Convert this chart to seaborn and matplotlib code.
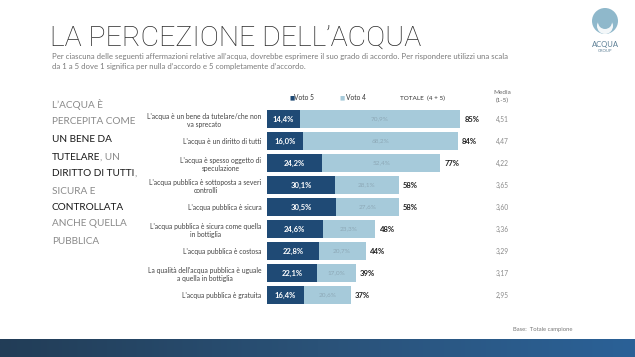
import numpy as np
import pandas as pd
import matplotlib
matplotlib.use("Agg")
import matplotlib.pyplot as plt
import seaborn as sns
from matplotlib.patches import Circle
from matplotlib.colors import LinearSegmentedColormap

sns.set_theme(style="white")
plt.rcParams['font.family'] = ['Lato', 'DejaVu Sans']

# ---------------- data ----------------
categories = [
    "L'acqua è un bene da tutelare/che non\nva sprecato",
    "L'acqua è un diritto di tutti",
    "L'acqua è spesso oggetto di\nspeculazione",
    "L'acqua pubblica è sottoposta a severi\ncontrolli",
    "L'acqua pubblica è sicura",
    "L'acqua pubblica è sicura come quella\nin bottiglia",
    "L'acqua pubblica è costosa",
    "La qualità dell'acqua pubblica è uguale\na quella in bottiglia",
    "L'acqua pubblica è gratuita",
]
voto5 = [14.4, 16.0, 24.2, 30.1, 30.5, 24.6, 22.8, 22.1, 16.4]
voto4 = [70.9, 68.2, 52.4, 28.1, 27.6, 23.3, 20.7, 17.0, 20.6]
totale_labels = ["85%", "84%", "77%", "58%", "58%", "48%", "44%", "39%", "37%"]
media = ["4,51", "4,47", "4,22", "3,65", "3,60", "3,36", "3,29", "3,17", "2,95"]

DARK = "#1f4a75"
LIGHT = "#a6cada"

df = pd.DataFrame({"cat": categories, "v5": voto5, "v4": voto4})
df["tot"] = df["v5"] + df["v4"]

W, H = 635, 357
fig = plt.figure(figsize=(W / 100, H / 100), dpi=100)
fig.patch.set_facecolor("white")

def fx(x):
    return x / W

def fy(y):
    return 1 - y / H

# background axes for free text
bg = fig.add_axes([0, 0, 1, 1])
bg.axis("off")

# bottom gradient band
grad = np.linspace(0, 1, 256).reshape(1, -1)
cmap = LinearSegmentedColormap.from_list("band", ["#223d57", "#2a5278", "#2b6197"])
bg.imshow(grad, extent=(0, W, H, 339), aspect="auto", cmap=cmap, zorder=0)
bg.set_xlim(0, W)
bg.set_ylim(H, 0)

# title & subtitle
bg.text(50, 46, "LA PERCEZIONE DELL\u2019ACQUA", fontsize=20.5, fontweight="light",
        family=["Roboto", "DejaVu Sans"], color="#2a2a2a", va="baseline", ha="left")
bg.text(52, 59, "Per ciascuna delle seguenti affermazioni relative all\u2019acqua, dovrebbe esprimere il suo grado di accordo. Per rispondere utilizzi una scala",
        fontsize=5.6, color="#7a7a7a", va="baseline", ha="left")
bg.text(52, 69, "da 1 a 5 dove 1 significa per nulla d\u2019accordo e 5 completamente d\u2019accordo.",
        fontsize=5.6, color="#7a7a7a", va="baseline", ha="left")

# logo
bg.add_patch(Circle((605, 21), 13, facecolor="#8fb8cb", edgecolor="none", zorder=2))
bg.add_patch(Circle((605, 26), 8, facecolor="white", edgecolor="none", zorder=3, alpha=0.9))
bg.add_patch(Circle((605, 22), 7, facecolor="#8fb8cb", edgecolor="none", zorder=4))
bg.text(605, 44, "ACQUA", fontsize=5.5, color="#5c7f95", ha="center", va="center")
bg.text(605, 51, "GROUP", fontsize=3, color="#5c7f95", ha="center", va="center")

# left narrative text
GRAY = "#8a8a8a"
BLK = "#1a1a1a"
lines = [
    [("L\u2019ACQUA È", GRAY)],
    [("PERCEPITA COME", GRAY)],
    [("UN BENE DA", BLK)],
    [("TUTELARE", BLK), (", UN", GRAY)],
    [("DIRITTO DI TUTTI", BLK), (",", GRAY)],
    [("SICURA E", GRAY)],
    [("CONTROLLATA", BLK)],
    [("ANCHE QUELLA", GRAY)],
    [("PUBBLICA", GRAY)],
]
ys = [105, 122, 139, 157, 174, 191, 208, 224, 241]
for y, parts in zip(ys, lines):
    prev = None
    for txt, col in parts:
        if prev is None:
            prev = bg.text(52, y, txt, fontsize=7.2, color=col, va="center", ha="left")
        else:
            prev = bg.annotate(txt, xy=(1, 0), xycoords=prev, fontsize=7.2,
                               color=col, va="bottom", ha="left")

# ---------------- main chart ----------------
x0, x1 = 267, 267 + 2.265 * 100
y_top, y_bot = 108, 306
ax = fig.add_axes([fx(x0), fy(y_bot), fx(x1 - x0), (y_bot - y_top) / H])

sns.barplot(data=df, y="cat", x="tot", color=LIGHT, orient="h", width=0.86,
            ax=ax, saturation=1, edgecolor="none")
sns.barplot(data=df, y="cat", x="v5", color=DARK, orient="h", width=0.86,
            ax=ax, saturation=1, edgecolor="none")

ax.set_xlim(0, 100)
ax.set_ylim(len(categories) - 0.5, -0.5)
ax.set_xlabel("")
ax.set_ylabel("")
ax.set_xticks([])
ax.tick_params(axis="y", length=0, pad=4)
for lab in ax.get_yticklabels():
    lab.set_fontsize(4.9)
    lab.set_color("#444444")
    lab.set_multialignment("center")
for s in ax.spines.values():
    s.set_visible(False)
ax.set_facecolor("none")

for i, (a, b, t) in enumerate(zip(voto5, voto4, totale_labels)):
    ax.text(a / 2, i, f"{a:.1f}%".replace(".", ","), color="white", fontsize=5.5,
            fontweight="bold", ha="center", va="center")
    ax.text(a + b / 2, i, f"{b:.1f}%".replace(".", ","), color="#8da8b6", fontsize=4.6,
            ha="center", va="center")
    ax.text(a + b + 1.8, i, t, color="#222222", fontsize=5.5, fontweight="bold",
            ha="left", va="center")

# media column
for i, m in enumerate(media):
    ax.text(x=(502 - x0) / 2.265, y=i, s=m, color="#8a8a8a", fontsize=4.8,
            ha="center", va="center", clip_on=False)

# header / legend
bg.text(502, 93, "Media", fontsize=4.6, color="#666666", ha="center", va="center")
bg.text(502, 100, "(1-5)", fontsize=4.6, color="#666666", ha="center", va="center")
bg.text(289, 98, "\u25A0", fontsize=4, color=DARK, ha="left", va="center",
        family=["DejaVu Sans"])
bg.text(294.5, 98, "Voto 5", fontsize=4.8, color="#333333", ha="left", va="center")
bg.text(340, 98, "\u25A0", fontsize=4, color=LIGHT, ha="left", va="center",
        family=["DejaVu Sans"])
bg.text(345.5, 98, "Voto 4", fontsize=4.8, color="#333333", ha="left", va="center")
bg.text(400, 98, "TOTALE  (4 + 5)", fontsize=4.6, color="#333333", ha="left", va="center")

bg.text(513, 329, "Base:  Totale campione", fontsize=4.2, color="#777777", ha="left", va="center")

fig.savefig("out.png", dpi=100, facecolor="white")
